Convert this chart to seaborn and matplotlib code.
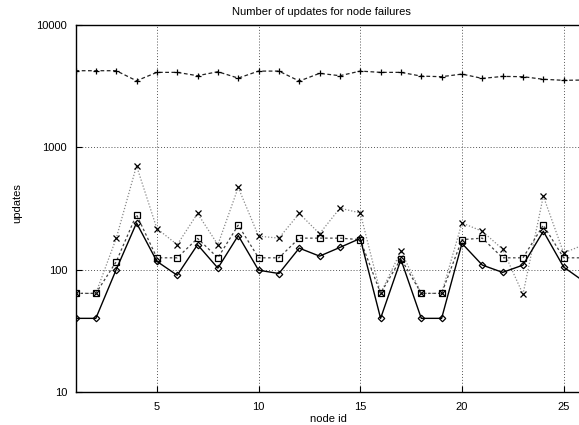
import matplotlib
matplotlib.use("Agg")
import matplotlib.pyplot as plt
import seaborn as sns
import pandas as pd
from matplotlib.ticker import FixedLocator, FixedFormatter, NullLocator

sns.set_theme(style="white")
plt.rcParams['font.family'] = ['Liberation Sans', 'DejaVu Sans']

node_id = list(range(1, 27))
upd_plus = [4230, 4230, 4230, 3500, 4100, 4100, 3850, 4150, 3680, 4200, 4200, 3480, 4025,
            3850, 4200, 4100, 4100, 3820, 3780, 3970, 3660, 3800, 3780, 3600, 3530, 3550]
upd_cross = [64, 64, 180, 706, 217, 160, 288, 160, 470, 188, 181, 288, 197,
             318, 291, 64, 142, 64, 64, 241, 206, 147, 63, 399, 137, 160]
upd_square = [64, 64, 116, 282, 125, 125, 180, 125, 231, 125, 125, 181, 181,
              181, 176, 64, 123, 64, 64, 176, 181, 125, 125, 231, 125, 125]
upd_diamond = [40, 40, 100, 241, 117, 90, 160, 103, 190, 99, 93, 150, 129,
               152, 180, 40, 121, 40, 40, 164, 109, 95, 109, 206, 105, 80]

title = "Number of updates for node failures"
xlabel = "node id"
ylabel = "updates"
xticks = [5, 10, 15, 20, 25]
yticks = [10, 100, 1000, 10000]
ytick_labels = ["10", "100", "1000", "10000"]

W, H = 579, 425
fig = plt.figure(figsize=(W / 100, H / 100), dpi=100)
x0, x1 = 75.5, 584
y0, y1 = 25, 392
ax = fig.add_axes([x0 / W, 1 - y1 / H, (x1 - x0) / W, (y1 - y0) / H])

df = pd.DataFrame({"node": node_id, "plus": upd_plus, "cross": upd_cross,
                   "square": upd_square, "diamond": upd_diamond})

sns.lineplot(data=df, x="node", y="plus", ax=ax, color="#222222", linewidth=0.9,
             linestyle=(0, (3, 2)), marker="+", markersize=5, markeredgewidth=0.9,
             markeredgecolor="black")
sns.lineplot(data=df, x="node", y="cross", ax=ax, color="#888888", linewidth=0.9,
             linestyle=(0, (1, 1.5)), marker="x", markersize=4.2, markeredgewidth=0.9,
             markeredgecolor="black")
sns.lineplot(data=df, x="node", y="square", ax=ax, color="#444444", linewidth=0.9,
             linestyle=(0, (2, 2)), marker="s", markersize=4.5, markeredgewidth=0.9,
             markerfacecolor="none", markeredgecolor="black")
sns.lineplot(data=df, x="node", y="diamond", ax=ax, color="black", linewidth=1.0,
             linestyle="-", marker="D", markersize=3.3, markeredgewidth=0.9,
             markerfacecolor="none", markeredgecolor="black")

ax.set_yscale("log")
ax.set_xlim(1, 26)
ax.set_ylim(10, 10000)
ax.xaxis.set_major_locator(FixedLocator(xticks))
ax.yaxis.set_major_locator(FixedLocator(yticks))
ax.yaxis.set_major_formatter(FixedFormatter(ytick_labels))
ax.yaxis.set_minor_locator(NullLocator())
ax.xaxis.set_minor_locator(NullLocator())
ax.tick_params(axis="both", which="major", direction="in", length=4, width=0.8,
               colors="black", labelsize=8, labelcolor="black", pad=6,
               top=False, right=False, bottom=True, left=True)
ax.tick_params(axis="x", pad=7)

for sp in ["left", "bottom", "top", "right"]:
    ax.spines[sp].set_visible(True)
    ax.spines[sp].set_color("black")
    ax.spines[sp].set_linewidth(1.0)

ax.grid(True, which="major", color="#555555", linestyle=(0, (1, 2)), linewidth=0.7)
ax.set_axisbelow(True)

ax.set_xlabel(xlabel, fontsize=8, color="black")
ax.set_ylabel(ylabel, fontsize=8, color="black")
ax.xaxis.set_label_coords((328 - x0) / (x1 - x0), -(419 - y1) / (y1 - y0))
ax.yaxis.set_label_coords(-(x0 - 17) / (x1 - x0), (y1 - 203) / (y1 - y0))
ax.xaxis.label.set_va("center")
ax.yaxis.label.set_va("center")

fig.text(321 / W, 1 - 12 / H, title, ha="center", va="center", fontsize=8, color="black")

fig.savefig("out.png", dpi=100)
